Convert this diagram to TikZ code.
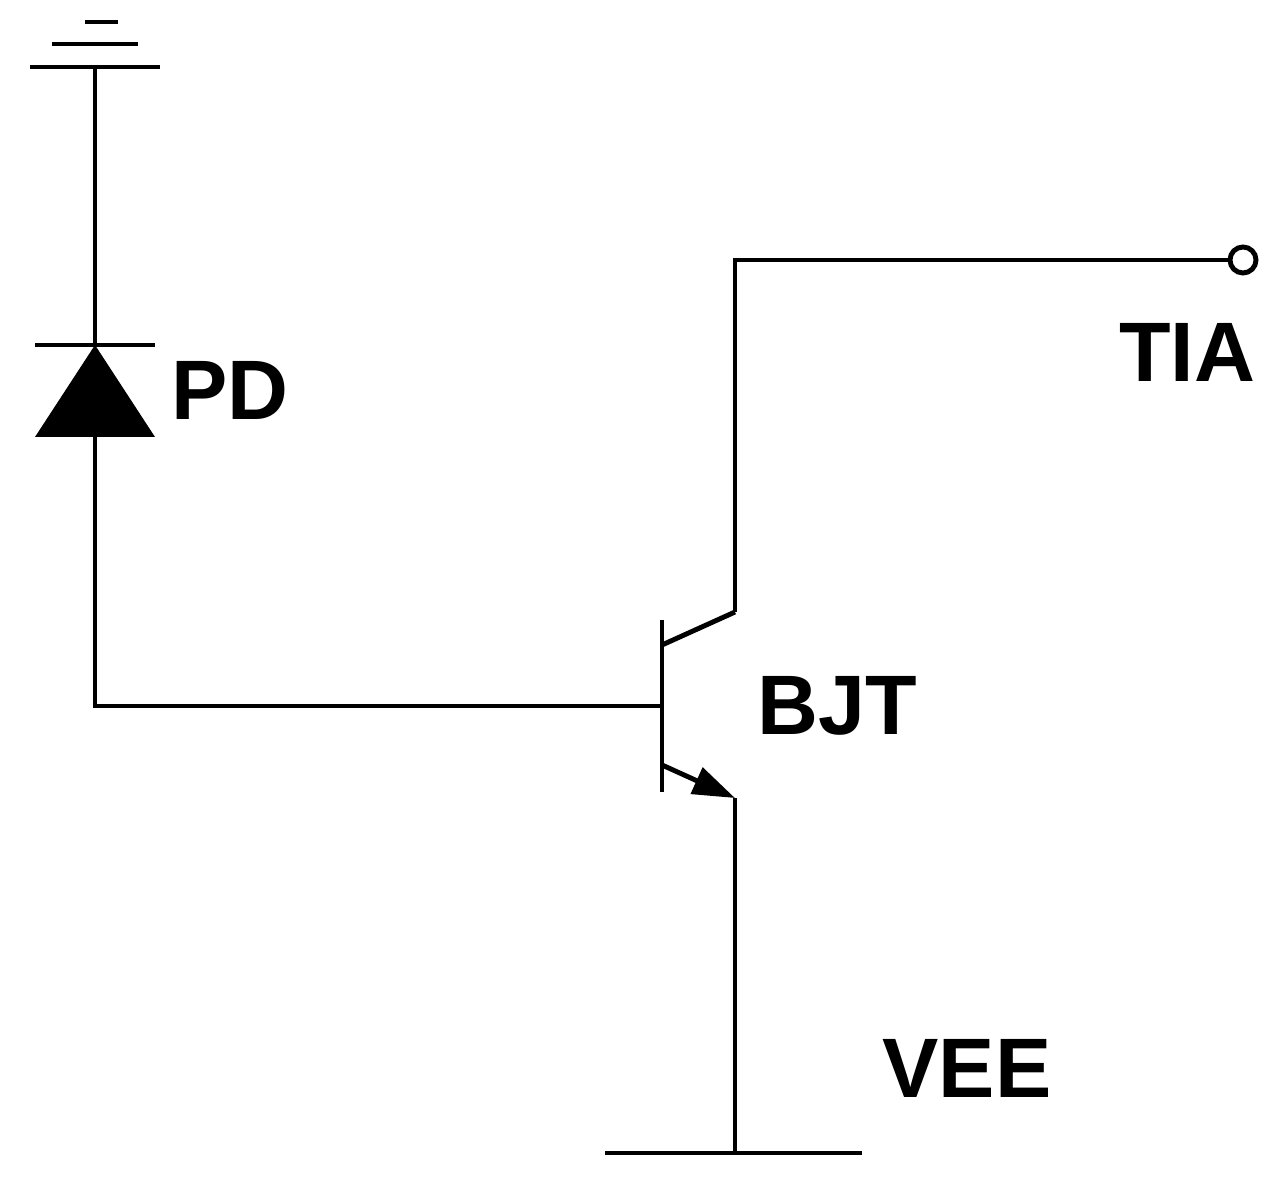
\documentclass[tikz,border=0pt]{standalone}
\usepackage{fontspec}
\setmainfont{Liberation Sans}
\usetikzlibrary{arrows.meta}
\begin{document}
\begin{tikzpicture}[x=0.01cm,y=-0.01cm,line width=1.4pt,
lbl/.style={font=\fontsize{24}{28}\selectfont\bfseries,inner sep=0pt}]
\useasboundingbox (0,0) rectangle (1276,1180);

% ground on top
\draw (85,22) -- (118,22);
\draw (52,44) -- (138,44);
\draw (30,67) -- (160,67);
\coordinate (gnd) at (95,67);

% photodiode
\coordinate (K) at (95,345);
\coordinate (A) at (95,437);
\draw (35,345) -- (155,345);
\fill (K) -- (35,437) -- (155,437) -- cycle;
\draw (gnd) -- (K);
\node[lbl] (PD) at (230,390) {PD};

% transistor
\coordinate (B) at (662,706);
\coordinate (C) at (735,612);
\coordinate (E) at (735,798);
\coordinate (corner) at (95,706);
\draw (662,620) -- (662,792);
\draw (A) -- (corner) -- (B);
\draw (662,645) -- (C);
\draw[-{Triangle[length=12pt,width=8pt]}] (662,765) -- (E);
\node[lbl] (BJT) at (837,706) {BJT};

% output to TIA
\node[circle,draw,fill=white,inner sep=0pt,minimum size=0.26cm] (out) at (1243,260) {};
\draw (C) -- (735,260) -- (out.west);
\node[lbl] (TIA) at (1187,352) {TIA};

% VEE
\coordinate (vee) at (735,1153);
\draw (E) -- (vee);
\draw (605,1153) -- (862,1153);
\node[lbl] (VEE) at (967,1068) {VEE};
\end{tikzpicture}
\end{document}
